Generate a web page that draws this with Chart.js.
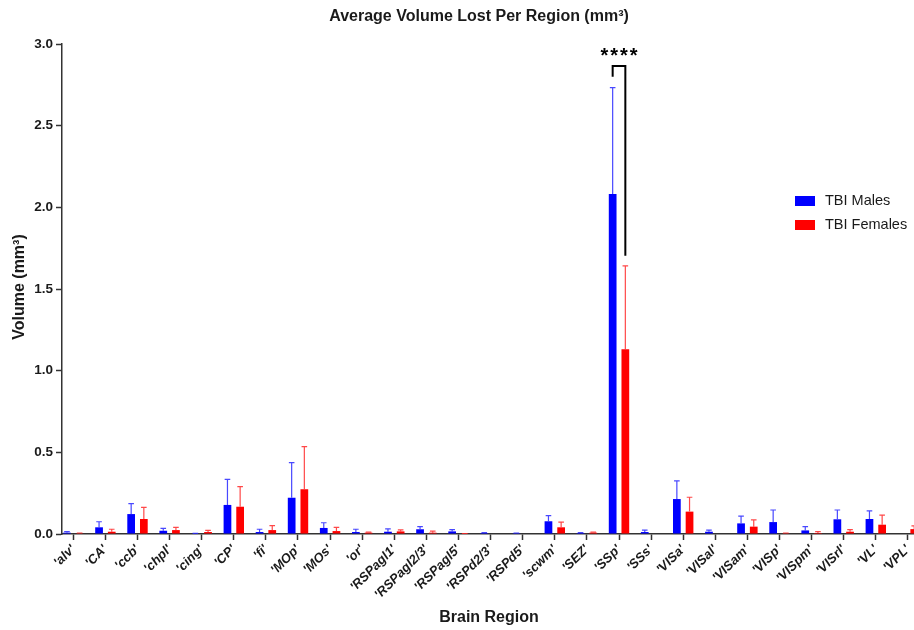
<!DOCTYPE html>
<html>
<head>
<meta charset="utf-8">
<script src="https://cdn.jsdelivr.net/npm/chart.js@4/dist/chart.umd.min.js"></script>
<style>
  html, body { margin: 0; padding: 0; background: #fff; }
  #wrap { width: 914px; height: 630px; }
</style>
</head>
<body>
<div id="wrap"><canvas id="c" width="914" height="630"></canvas></div>
<script>
// Brain regions on the x axis
const regions = ["'alv'", "'CA'", "'ccb'", "'chpl'", "'cing'", "'CP'", "'fi'", "'MOp'", "'MOs'", "'or'",
  "'RSPagl1'", "'RSPagl2/3'", "'RSPagl5'", "'RSPd2/3'", "'RSPd5'", "'scwm'", "'SEZ'", "'SSp'", "'SSs'",
  "'VISa'", "'VISal'", "'VISam'", "'VISp'", "'VISpm'", "'VISrl'", "'VL'", "'VPL'"];

// Mean volume lost (mm^3)
const malesMean = [0.008, 0.041, 0.122, 0.020, 0.003, 0.178, 0.012, 0.222, 0.037, 0.012,
  0.014, 0.029, 0.016, 0.006, 0.005, 0.078, 0.006, 2.082, 0.012,
  0.214, 0.014, 0.065, 0.073, 0.022, 0.090, 0.092, 0.000];
const femalesMean = [0.004, 0.014, 0.092, 0.024, 0.012, 0.167, 0.024, 0.274, 0.018, 0.008,
  0.016, 0.008, 0.002, 0.000, 0.000, 0.041, 0.008, 1.131, 0.000,
  0.137, 0.000, 0.045, 0.004, 0.006, 0.014, 0.057, 0.030];

// Upper error (SD) for each bar
const malesErr = [0.006, 0.034, 0.064, 0.015, 0.001, 0.157, 0.017, 0.215, 0.032, 0.017,
  0.017, 0.016, 0.011, 0.002, 0.001, 0.034, 0.002, 0.651, 0.012,
  0.111, 0.010, 0.045, 0.074, 0.023, 0.057, 0.049, 0.000];
const femalesErr = [0.002, 0.015, 0.071, 0.017, 0.010, 0.123, 0.027, 0.261, 0.023, 0.003,
  0.009, 0.010, 0.001, 0.000, 0.000, 0.032, 0.003, 0.510, 0.000,
  0.088, 0.000, 0.041, 0.002, 0.008, 0.013, 0.059, 0.020];

// y-axis ticks
const yTicks = [0, 0.5, 1.0, 1.5, 2.0, 2.5, 3.0];

// Significance marker between the SSp groups
const sigIndex = 17;
const sigText = '****';
const sigTop = 2.865, sigLeftEnd = 2.80, sigRightEnd = 1.704, sigTextLevel = 2.945;

const seriesNames = ['TBI Males', 'TBI Females'];
const seriesColors = ['#0000ff', '#ff0000'];
const errColors = ['rgba(40,40,255,0.85)', 'rgba(255,40,40,0.85)'];
const errValues = [malesErr, femalesErr];

const toPoints = arr => arr.map((v, i) => ({ x: i, y: v }));

const FONT = '"Liberation Sans", Arial, Helvetica, sans-serif';
const INK = '#1a1a1a';
const AXIS = '#333333';

// Upper-only error bars with caps
const errorBars = {
  id: 'errorBars',
  afterDatasetsDraw(chart) {
    const ctx = chart.ctx;
    const y = chart.scales.y;
    const area = chart.chartArea;
    ctx.save();
    ctx.beginPath();
    ctx.rect(area.left, 0, area.right - area.left, area.bottom + 1);
    ctx.clip();
    chart.data.datasets.forEach((ds, di) => {
      const meta = chart.getDatasetMeta(di);
      meta.data.forEach((bar, i) => {
        const e = errValues[di][i];
        if (!e) return;
        const yTop = y.getPixelForValue(ds.data[i].y + e);
        const yBase = y.getPixelForValue(ds.data[i].y);
        ctx.strokeStyle = errColors[di];
        ctx.lineWidth = 1.2;
        ctx.beginPath();
        ctx.moveTo(bar.x, yBase);
        ctx.lineTo(bar.x, yTop);
        ctx.moveTo(bar.x - 2.8, yTop);
        ctx.lineTo(bar.x + 2.8, yTop);
        ctx.stroke();
      });
    });
    ctx.restore();
  }
};

// Titles, legend and the significance bracket
const decorations = {
  id: 'decorations',
  afterDraw(chart) {
    const ctx = chart.ctx;
    const y = chart.scales.y;
    ctx.save();
    ctx.fillStyle = INK;
    ctx.textBaseline = 'middle';

    // chart title
    ctx.textAlign = 'center';
    ctx.font = 'bold 16px ' + FONT;
    ctx.fillText('Average Volume Lost Per Region (mm³)', 479, 17);

    // axis titles
    ctx.font = 'bold 16px ' + FONT;
    ctx.fillText('Brain Region', 489, 618);
    ctx.save();
    ctx.translate(20, 287);
    ctx.rotate(-Math.PI / 2);
    ctx.fillText('Volume (mm³)', 0, 0);
    ctx.restore();

    // legend
    ctx.textAlign = 'left';
    ctx.font = '14.5px ' + FONT;
    seriesNames.forEach((name, i) => {
      const cy = 201 + i * 24;
      ctx.fillStyle = seriesColors[i];
      ctx.fillRect(795, cy - 5, 20, 10);
      ctx.fillStyle = INK;
      ctx.fillText(name, 825, cy);
    });

    // bracket over SSp
    const xl = chart.getDatasetMeta(0).data[sigIndex].x;
    const xr = chart.getDatasetMeta(1).data[sigIndex].x;
    const yt = y.getPixelForValue(sigTop);
    ctx.strokeStyle = '#000';
    ctx.lineWidth = 2;
    ctx.beginPath();
    ctx.moveTo(xl, y.getPixelForValue(sigLeftEnd));
    ctx.lineTo(xl, yt);
    ctx.lineTo(xr, yt);
    ctx.lineTo(xr, y.getPixelForValue(sigRightEnd));
    ctx.stroke();

    ctx.fillStyle = '#000';
    ctx.textAlign = 'center';
    ctx.font = 'bold 20px ' + FONT;
    ctx.letterSpacing = '2px';
    ctx.fillText(sigText, (xl + xr) / 2 + 1, y.getPixelForValue(sigTextLevel) + 4);
    ctx.restore();
  }
};

new Chart(document.getElementById('c'), {
  type: 'bar',
  data: {
    datasets: [0, 1].map(i => ({
      label: seriesNames[i],
      data: toPoints(i === 0 ? malesMean : femalesMean),
      backgroundColor: seriesColors[i],
      borderWidth: 0,
      categoryPercentage: 0.79,
      barPercentage: 0.61
    }))
  },
  options: {
    responsive: false,
    animation: false,
    devicePixelRatio: 1,
    layout: { padding: { top: 44, left: 0, right: 0, bottom: 0 } },
    plugins: {
      legend: { display: false },
      title: { display: false },
      tooltip: { enabled: false }
    },
    scales: {
      x: {
        type: 'linear',
        offset: false,
        min: -0.352,
        max: 26.19,
        afterBuildTicks(scale) {
          scale.ticks = regions.map((_, i) => ({ value: i }));
        },
        afterFit(scale) {
          scale.height = 96;
          scale.paddingLeft = 0;
          scale.paddingRight = 0;
        },
        ticks: {
          autoSkip: false,
          maxRotation: 45,
          minRotation: 45,
          padding: 2,
          color: INK,
          font: { family: FONT, size: 13, weight: 'bold', style: 'italic' },
          callback: v => regions[v]
        },
        grid: {
          offset: false,
          drawOnChartArea: false,
          drawTicks: true,
          tickLength: 6,
          tickWidth: 1.5,
          tickColor: AXIS
        },
        border: { display: true, color: AXIS, width: 1.5 }
      },
      y: {
        min: 0,
        max: 3,
        afterBuildTicks(scale) {
          scale.ticks = yTicks.map(v => ({ value: v }));
        },
        afterFit(scale) {
          scale.width = 62;
          scale.paddingTop = 0;
          scale.paddingBottom = 0;
        },
        ticks: {
          padding: 3,
          color: INK,
          font: { family: FONT, size: 13.5, weight: 'bold' },
          callback: v => v.toFixed(1)
        },
        grid: {
          drawOnChartArea: false,
          drawTicks: true,
          tickLength: 6,
          tickWidth: 1.5,
          tickColor: AXIS
        },
        border: { display: true, color: AXIS, width: 1.5 }
      }
    }
  },
  plugins: [errorBars, decorations]
});
</script>
</body>
</html>
